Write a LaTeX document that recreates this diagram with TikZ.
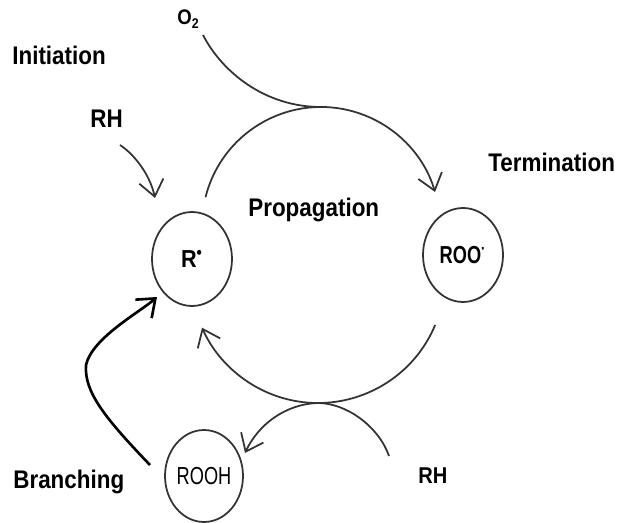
\documentclass[tikz,border=0pt]{standalone}
\usepackage{fontspec}
\setmainfont{Liberation Sans}[FakeStretch=0.88]
\newfontfamily\narrowfont{Liberation Sans}[FakeStretch=0.74]
\usetikzlibrary{arrows.meta}
\usetikzlibrary{shapes.geometric}
\tikzset{>={Straight Barb[length=9pt,width=14pt]}}
\colorlet{linecol}{black!80}
\tikzset{
  species/.style={ellipse,draw=linecol,line width=1pt,
                  minimum width=1.6cm,minimum height=1.88cm,inner sep=0pt},
  stage/.style={font=\fontsize{14.5}{16}\selectfont\bfseries,
                anchor=base west,inner sep=0pt},
  cycle arrow/.style={linecol,line width=1pt},
  branch arrow/.style={black,line width=1.5pt,->},
}

\begin{document}
\begin{tikzpicture}[x=0.02cm,y=0.02cm]
  \useasboundingbox (0,0) rectangle (621,-523);
  \def\ru{119} % upper arc
  \def\rl{127} % lower arc
  \coordinate (topC) at (321,-226);
  \coordinate (botC) at (318,-276);
  \coordinate (topJ) at ([shift={(90:\ru)}]topC);
  \coordinate (botJ) at ([shift={(-90:\rl)}]botC);
  \coordinate (oxyEnd) at (203,-35);
  \coordinate (rhStart) at (120,-145);
  \coordinate (rhTip) at (155,-198);
  \coordinate (hydTip) at (245,-453);
  \coordinate (rhEnd) at (389,-456);
  \coordinate (brStart) at (150,-465);
  \coordinate (brBend) at (86,-365);
  \coordinate (brTip) at (157,-297);

  % SPECIES
  \node[species] (R) at (192,-259) {\fontsize{14}{16}\selectfont\bfseries R\textsuperscript{\textbullet}};
  \node[species] (ROO) at (463,-255) {\narrowfont\fontsize{14}{16}\selectfont\bfseries ROO\textsuperscript{\textperiodcentered}};
  \node[species,minimum width=1.56cm,minimum height=1.84cm] (ROOH) at (204,-476) {\narrowfont\fontsize{14}{16}\selectfont ROOH};

  % LABELS
  \node[stage] (init) at (12,-64.5) {Initiation};
  \node[stage] (rhA) at (90,-128) {RH};
  \node[stage] (prop) at (248,-216) {Propagation};
  \node[stage] (term) at (488,-172) {Termination};
  \node[stage] (branch) at (13,-488) {Branching};
  \node[stage,font=\fontsize{13}{15}\selectfont\bfseries] (rhB) at (418,-483) {RH};
  \node[stage,font=\fontsize{12}{14}\selectfont\bfseries] (oxy) at (177,-25) {O\textsubscript{2}};

  % CYCLE
  \draw[cycle arrow,->] ([shift={(166:\ru)}]topC) arc[start angle=166,end angle=16.6,radius=\ru];
  \draw[cycle arrow,->] ([shift={(-22.7:\rl)}]botC) arc[start angle=-22.7,end angle=-156,radius=\rl];

  % SIDE PATHS
  \draw[cycle arrow] (oxyEnd) .. controls (222,-72) and (265,-107) .. (topJ);
  \draw[cycle arrow,->] (rhStart) .. controls (135,-155) and (150,-175) .. (rhTip);
  \draw[cycle arrow,->] (botJ) .. controls (285,-404) and (258,-425) .. (hydTip);
  \draw[cycle arrow] (botJ) .. controls (345,-403) and (378,-425) .. (rhEnd);
  \draw[branch arrow] (brStart) .. controls (105,-418) and (84,-392) .. (brBend)
                      .. controls (92,-338) and (140,-312) .. (brTip);
\end{tikzpicture}
\end{document}
